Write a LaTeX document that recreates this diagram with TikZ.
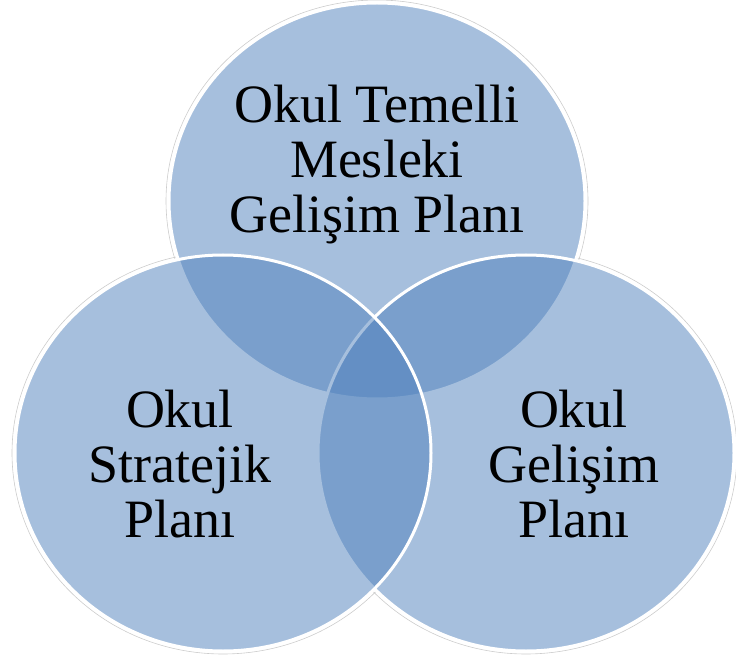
\documentclass[tikz,border=0pt]{standalone}
\usepackage{fontspec}
\setmainfont{Liberation Serif}
\usetikzlibrary{shapes.geometric}
\definecolor{vennblue}{HTML}{4F81BD}
\tikzset{
  venn/.style={ellipse, minimum width=416pt, minimum height=396pt, inner sep=0pt,
    fill=vennblue, fill opacity=0.5, draw=white, draw opacity=1, line width=3pt},
  vennshadow/.style={ellipse, minimum width=422pt, minimum height=402pt, inner sep=0pt,
    draw=gray!40, line width=0.6pt},
  vennbase/.style={ellipse, minimum width=418pt, minimum height=398pt, inner sep=0pt,
    fill=white},
  venntext/.style={align=center, inner sep=0pt, text=black,
    font=\fontsize{54}{55}\selectfont}
}
\begin{document}
\begin{tikzpicture}[x=1pt,y=1pt]
\useasboundingbox (0,0) rectangle (736,657);
% soft outer edges, hidden inside the union of the circles
\node[vennshadow] (st) at (377,456) {};
\node[vennshadow] (sr) at (526,204) {};
\node[vennshadow] (sl) at (223,204) {};
\node[vennbase] (bt) at (377,456) {};
\node[vennbase] (br) at (526,204) {};
\node[vennbase] (bl) at (223,204) {};
% circles: top, right, left (drawing order as in the reference)
\node[venn] (top) at (377,456) {};
\node[venn] (right) at (526,204) {};
\node[venn] (left) at (223,204) {};
% labels
\node[venntext] (ttop) at (377,492) {Okul Temelli\\Mesleki\\Gelişim Planı};
\node[venntext] (tleft) at (180,192.5) {Okul\\Stratejik\\Planı};
\node[venntext] (tright) at (574,192.5) {Okul\\Gelişim\\Planı};
\end{tikzpicture}
\end{document}
